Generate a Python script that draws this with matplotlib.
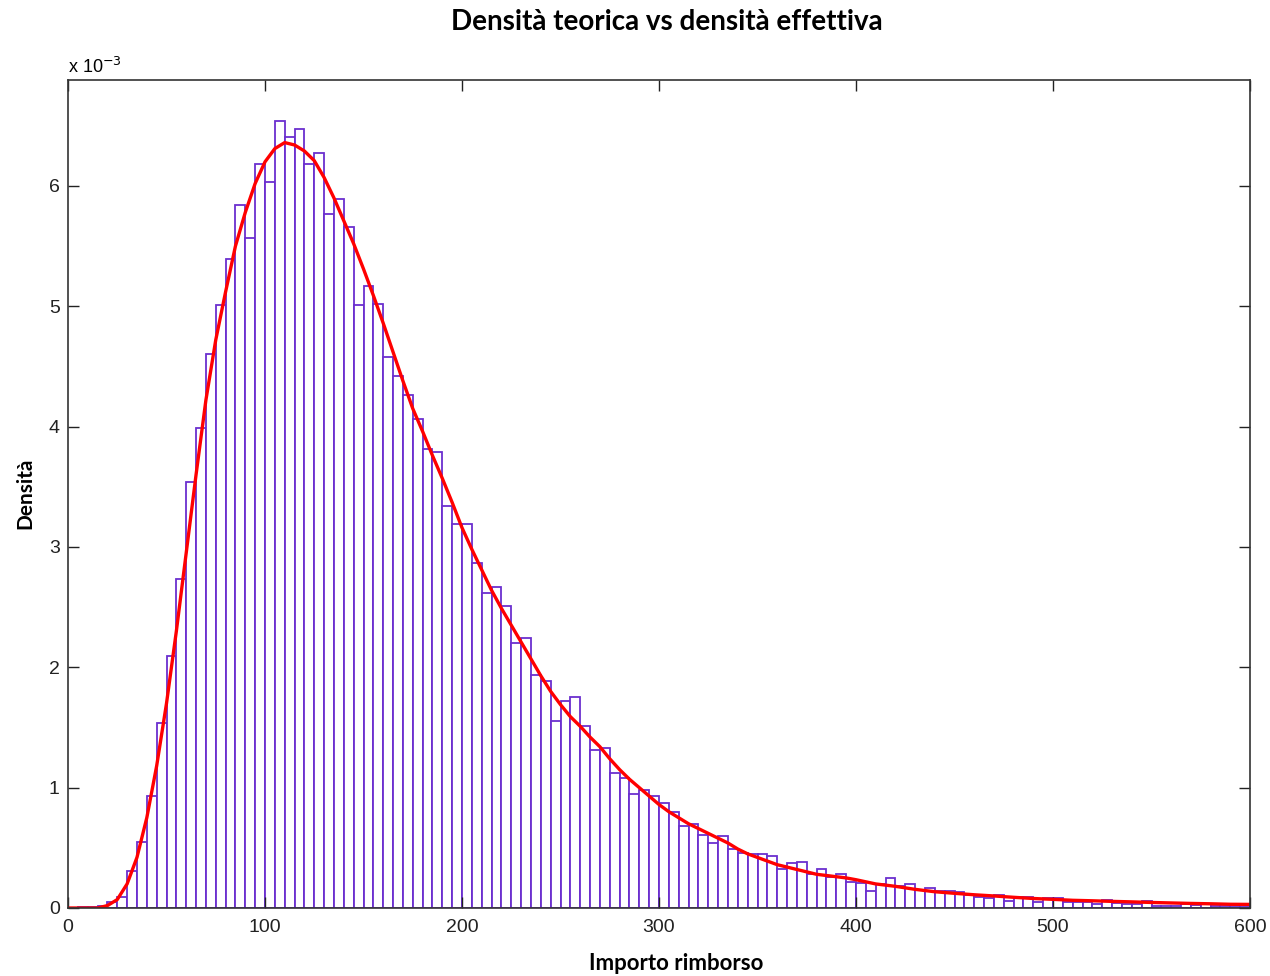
import matplotlib
matplotlib.use('Agg')
import matplotlib.pyplot as plt
import numpy as np

# histogram: bin width 5, bars from 0 to 600 (density in units of 1e-3)
bin_left = np.arange(0, 600, 5)
hist_density = [
    0.0, 0.01, 0.01, 0.02, 0.05, 0.09, 0.31, 0.55, 0.93, 1.54,
    2.09, 2.73, 3.54, 3.99, 4.60, 5.01, 5.39, 5.84, 5.57, 6.18,
    6.03, 6.54, 6.41, 6.47, 6.18, 6.27, 5.77, 5.89, 5.66, 5.01,
    5.17, 5.02, 4.58, 4.42, 4.26, 4.06, 3.81, 3.79, 3.34, 3.19,
    3.19, 2.87, 2.62, 2.67, 2.51, 2.20, 2.24, 1.94, 1.89, 1.55,
    1.72, 1.75, 1.51, 1.31, 1.33, 1.12, 1.08, 0.95, 0.98, 0.93,
    0.875, 0.80, 0.68, 0.70, 0.61, 0.54, 0.60, 0.49, 0.46, 0.45,
    0.45, 0.435, 0.32, 0.37, 0.385, 0.28, 0.32, 0.26, 0.28, 0.22,
    0.21, 0.145, 0.20, 0.25, 0.18, 0.20, 0.15, 0.17, 0.14, 0.14,
    0.13, 0.11, 0.09, 0.08, 0.11, 0.06, 0.09, 0.09, 0.05, 0.08,
    0.085, 0.05, 0.05, 0.05, 0.03, 0.07, 0.04, 0.035, 0.03, 0.06,
    0.02, 0.02, 0.015, 0.03, 0.025, 0.03, 0.015, 0.015, 0.015, 0.015,
]

# theoretical density
curve_x = [0, 5, 10, 15, 20, 25, 30, 35, 40, 45, 50, 55, 60, 65, 70, 75,
           80, 85, 90, 95, 100, 105, 110, 115, 120, 125, 130, 135, 140,
           145, 150, 155, 160, 165, 170, 175, 180, 185, 190, 195, 200,
           205, 210, 215, 220, 225, 230, 235, 240, 245, 250, 255, 260,
           265, 270, 275, 280, 285, 290, 295, 300, 305, 310, 315, 320,
           325, 330, 335, 340, 345, 350, 355, 360, 365, 370, 375, 380,
           385, 390, 395, 400, 410, 420, 430, 440, 450, 460, 470, 480,
           490, 500, 510, 520, 530, 540, 550, 560, 570, 580, 590, 600]
curve_y = [0.0, 0.0, 0.0, 0.0, 0.02, 0.07, 0.2, 0.42, 0.75, 1.18, 1.7,
           2.3, 2.95, 3.6, 4.22, 4.72, 5.12, 5.5, 5.78, 6.02, 6.2, 6.31,
           6.36, 6.34, 6.29, 6.21, 6.07, 5.9, 5.71, 5.52, 5.31, 5.09,
           4.86, 4.62, 4.38, 4.15, 3.96, 3.76, 3.57, 3.37, 3.16, 2.98,
           2.81, 2.64, 2.49, 2.35, 2.21, 2.07, 1.93, 1.80, 1.69, 1.59,
           1.51, 1.42, 1.34, 1.24, 1.15, 1.07, 1.00, 0.93, 0.86, 0.80,
           0.75, 0.70, 0.66, 0.62, 0.58, 0.54, 0.49, 0.45, 0.42, 0.39,
           0.36, 0.34, 0.32, 0.30, 0.28, 0.27, 0.26, 0.25, 0.235, 0.20,
           0.18, 0.155, 0.135, 0.122, 0.11, 0.10, 0.089, 0.079, 0.072,
           0.064, 0.06, 0.055, 0.051, 0.046, 0.042, 0.038, 0.035, 0.031,
           0.03]

x_ticks = [0, 100, 200, 300, 400, 500, 600]
y_ticks = [0, 1, 2, 3, 4, 5, 6]

plt.rcParams['font.family'] = ['Liberation Sans', 'DejaVu Sans']

fig = plt.figure(figsize=(12.7, 9.76), dpi=100)
ax = fig.add_axes([68 / 1270, 1 - 908 / 976, (1250 - 68) / 1270, (908 - 80) / 976])

ax.bar(bin_left, hist_density, width=5, align='edge', facecolor='white',
       edgecolor='#6b2fcf', linewidth=1.3)
ax.plot(curve_x, curve_y, color='#ff0000', linewidth=2.4)

ax.set_xlim(0, 600)
ax.set_ylim(0, 6.88)
ax.set_xticks(x_ticks)
ax.set_yticks(y_ticks)
ax.tick_params(direction='in', length=8, width=1, top=True, right=True,
               labelsize=14, colors='#222222')
ax.tick_params(axis='x', pad=8)
ax.tick_params(axis='y', pad=6)
for s in ax.spines.values():
    s.set_linewidth(1.2)
    s.set_color('#333333')

ax.text(0, 1.004, r'x 10$^{-3}$', transform=ax.transAxes, fontsize=13,
        ha='left', va='bottom')

title_font = ['Lato', 'DejaVu Sans']
fig.text(667 / 1270, 1 - 22 / 976, 'Densità teorica vs densità effettiva',
         ha='center', va='center', fontsize=20, fontweight='bold',
         family=title_font)
fig.text(676 / 1270, 1 - 963 / 976, 'Importo rimborso', ha='center',
         va='center', fontsize=16, fontweight='bold', family=title_font)
fig.text(25 / 1270, 1 - 493 / 976, 'Densità', ha='center', va='center',
         rotation=90, fontsize=15, fontweight='bold', family=title_font)

fig.savefig('out.png', dpi=100)
